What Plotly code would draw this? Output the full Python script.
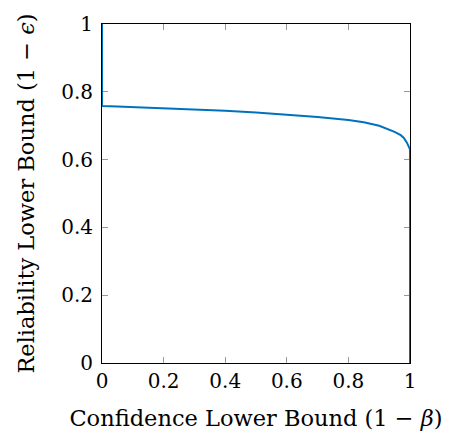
import plotly.graph_objects as go

# Data
conf = [0.0, 0.0, 0.05, 0.1, 0.2, 0.3, 0.4, 0.5, 0.6, 0.7, 0.8, 0.85, 0.9, 0.93, 0.95, 0.97, 0.98, 0.99, 0.995, 1.0, 1.0]
rel = [1.0, 0.758, 0.7565, 0.755, 0.752, 0.748, 0.744, 0.739, 0.733, 0.726, 0.717, 0.710, 0.700, 0.690, 0.682, 0.672, 0.664, 0.650, 0.640, 0.630, 0.0]

tick_vals = [0, 0.2, 0.4, 0.6, 0.8, 1]
tick_text = ["0", "0.2", "0.4", "0.6", "0.8", "1"]

fig = go.Figure()
fig.add_trace(go.Scatter(x=conf, y=rel, mode="lines", line=dict(color="#0072BD", width=2), showlegend=False))

fam = "DejaVu Serif, Liberation Serif, serif"
tfont = dict(family=fam, size=22.5, color="black")
axis_common = dict(
    range=[0, 1], tickvals=tick_vals, ticktext=tick_text,
    ticks="inside", ticklen=6, tickcolor="#999999", tickwidth=1,
    showline=True, linecolor="black", linewidth=1, mirror="ticks",
    showgrid=False, zeroline=False, layer="below traces",
    tickfont=dict(family=fam, size=20, color="black"),
)
fig.update_layout(
    width=450, height=439,
    margin=dict(l=102, r=40, t=12, b=76),
    paper_bgcolor="white", plot_bgcolor="white",
    font=tfont,
    xaxis=dict(**axis_common, title=dict(text="Confidence Lower Bound (1 − <i>β</i>)", font=tfont, standoff=18)),
    yaxis=dict(**axis_common, ticklabelstandoff=4, title=dict(text="Reliability Lower Bound (1 − <i>ϵ</i>)", font=tfont, standoff=20)),
)
fig.write_html("out.html")
